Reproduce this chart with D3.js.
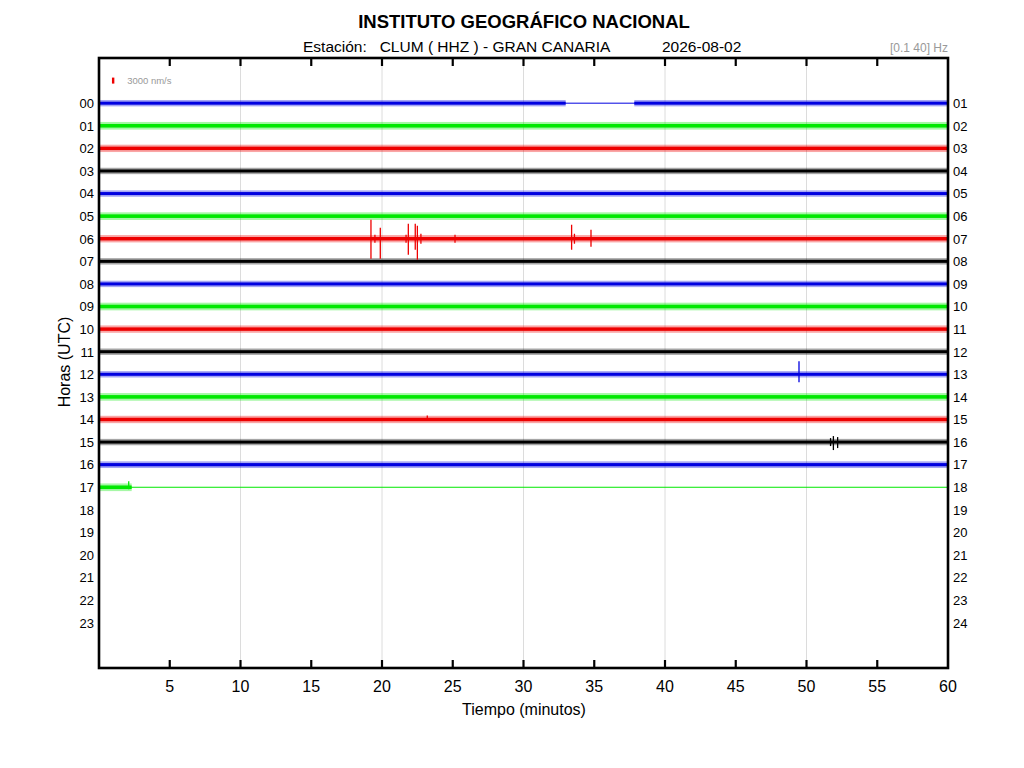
<!DOCTYPE html>
<html><head><meta charset="utf-8">
<script src="https://cdn.jsdelivr.net/npm/d3@7"></script>
<style>body{margin:0;background:#fff}svg{font-family:"Liberation Sans",Arial,sans-serif}</style>
</head><body>
<svg id="c" width="1024" height="768"></svg>
<script>
// ---- data ----
const hoursLeft = ["00","01","02","03","04","05","06","07","08","09","10","11","12","13","14","15","16","17","18","19","20","21","22","23"];
const hoursRight = ["01","02","03","04","05","06","07","08","09","10","11","12","13","14","15","16","17","18","19","20","21","22","23","24"];
const xTicks = [5,10,15,20,25,30,35,40,45,50,55,60];
const gridTicks = [10,20,30,40,50];
const traceColors = ["#0000e0","#00e800","#ee0000","#000000"];
// recorded hours 0..17; half-width of background noise (nm/s)
const noiseLevel = [1000,1200,1150,1000,1000,1200,1150,1000,1000,1200,1150,1000,1000,1200,1150,1000,1050,1200];
// intervals (minutes) with signal; elsewhere a flat line
const activeIntervals = [
  {hour:0, from:0, to:32.98},{hour:0, from:37.83, to:60},
  ...d3.range(1,17).map(h=>({hour:h, from:0, to:60})),
  {hour:17, from:0, to:2.31}
];
const flatLineHours = [0,17];
// spikes: time (min), up / down amplitude (nm/s)
const events = [
  {hour:6, t:19.22, up:9500, down:10000},
  {hour:6, t:19.50, up:2000, down:2000},
  {hour:6, t:19.88, up:5500, down:10000},
  {hour:6, t:21.70, up:2000, down:2000},
  {hour:6, t:21.86, up:7500, down:8000},
  {hour:6, t:22.35, up:7500, down:5500},
  {hour:6, t:22.50, up:6500, down:10500},
  {hour:6, t:22.75, up:2500, down:2500},
  {hour:6, t:25.16, up:2000, down:2000},
  {hour:6, t:33.40, up:7000, down:5500},
  {hour:6, t:33.60, up:2500, down:2500},
  {hour:6, t:34.77, up:4500, down:4000},
  {hour:12, t:49.47, up:6500, down:4000},
  {hour:14, t:23.20, up:2000, down:800},
  {hour:15, t:51.70, up:2000, down:2000},
  {hour:15, t:51.90, up:3000, down:4000},
  {hour:15, t:52.20, up:2500, down:3000},
  {hour:17, t:2.10, up:3000, down:1000}
];
const scaleBar = {hour:-1, t:1.0, value:3000, label:"3000 nm/s"};

// ---- layout ----
const svg = d3.select("#c");
const L=99, R=948, T=58, B=668;
const x = d3.scaleLinear().domain([0,60]).range([L,R]);
const y = d3.scaleLinear().domain([-2,25]).range([T,B]);
const amp = d3.scaleLinear().domain([0,3000]).range([0,6]);
const col = h => traceColors[h%4];

// grid
svg.append("g").selectAll("line").data(gridTicks).join("line")
  .attr("x1",d=>x(d)).attr("x2",d=>x(d)).attr("y1",T).attr("y2",B)
  .attr("stroke","#dcdcdc").attr("stroke-width",1);

// flat lines
svg.append("g").selectAll("line").data(flatLineHours).join("line")
  .attr("x1",x(0)).attr("x2",x(60)).attr("y1",h=>y(h)).attr("y2",h=>y(h))
  .attr("stroke",h=>col(h)).attr("stroke-width",1);

// noise bands
const gB = svg.append("g");
activeIntervals.forEach(iv=>{
  const a = noiseLevel[iv.hour], yc = y(iv.hour), c = col(iv.hour);
  gB.append("rect").attr("x",x(iv.from)).attr("width",x(iv.to)-x(iv.from))
    .attr("y",yc-amp(a)*1.6).attr("height",amp(a)*3.2).attr("fill",c).attr("opacity",0.35);
  gB.append("rect").attr("x",x(iv.from)).attr("width",x(iv.to)-x(iv.from))
    .attr("y",yc-amp(a)*0.75).attr("height",amp(a)*1.5).attr("fill",c);
});

// spikes
svg.append("g").selectAll("line").data(events).join("line")
  .attr("x1",d=>x(d.t)).attr("x2",d=>x(d.t))
  .attr("y1",d=>y(d.hour)-amp(d.up)).attr("y2",d=>y(d.hour)+amp(d.down))
  .attr("stroke",d=>col(d.hour)).attr("stroke-width",1.3);

// scale bar
svg.append("rect").attr("x",x(scaleBar.t)-1.2).attr("width",2.4)
  .attr("y",y(scaleBar.hour)-amp(scaleBar.value)/2).attr("height",amp(scaleBar.value))
  .attr("fill","#ee0000");
svg.append("text").attr("x",x(scaleBar.t)+14).attr("y",y(scaleBar.hour)+3.5)
  .attr("font-size",9.5).attr("fill","#999").text(scaleBar.label);

// frame
svg.append("rect").attr("x",L).attr("y",T).attr("width",R-L).attr("height",B-T)
  .attr("fill","none").attr("stroke","#000").attr("stroke-width",2.6);

// x ticks (bottom & top, inward)
const tg = svg.append("g");
tg.selectAll(".tb").data(xTicks.filter(d=>d<60)).join("line")
  .attr("x1",d=>x(d)).attr("x2",d=>x(d)).attr("y1",B).attr("y2",B-8)
  .attr("stroke","#000").attr("stroke-width",2.2);
tg.selectAll(".tt").data(xTicks.filter(d=>d<60)).join("line")
  .attr("x1",d=>x(d)).attr("x2",d=>x(d)).attr("y1",T).attr("y2",T+8)
  .attr("stroke","#000").attr("stroke-width",2.2);
svg.append("g").selectAll("text").data(xTicks).join("text")
  .attr("x",d=>x(d)).attr("y",692).attr("text-anchor","middle")
  .attr("font-size",16).text(d=>d);

// hour labels
svg.append("g").selectAll("text").data(hoursLeft).join("text")
  .attr("x",94).attr("y",(d,i)=>y(i)+4.8).attr("text-anchor","end")
  .attr("font-size",13).text(d=>d);
svg.append("g").selectAll("text").data(hoursRight).join("text")
  .attr("x",953).attr("y",(d,i)=>y(i)+4.8).attr("text-anchor","start")
  .attr("font-size",13).text(d=>d);

// titles
svg.append("text").attr("x",524).attr("y",27.5).attr("text-anchor","middle")
  .attr("font-size",18.5).attr("font-weight","bold").text("INSTITUTO GEOGRÁFICO NACIONAL");
svg.append("text").attr("x",303).attr("y",51.5).attr("font-size",15.5)
  .style("white-space","pre").text("Estación:   CLUM ( HHZ ) - GRAN CANARIA");
svg.append("text").attr("x",662).attr("y",51.5).attr("font-size",15.5).text("2026-08-02");
svg.append("text").attr("x",948).attr("y",52).attr("text-anchor","end")
  .attr("font-size",12).attr("fill","#999").text("[0.1 40] Hz");
svg.append("text").attr("x",524).attr("y",715).attr("text-anchor","middle")
  .attr("font-size",16).text("Tiempo (minutos)");
svg.append("text").attr("transform","translate(70,362) rotate(-90)")
  .attr("text-anchor","middle").attr("font-size",16).text("Horas (UTC)");
</script>
</body></html>
